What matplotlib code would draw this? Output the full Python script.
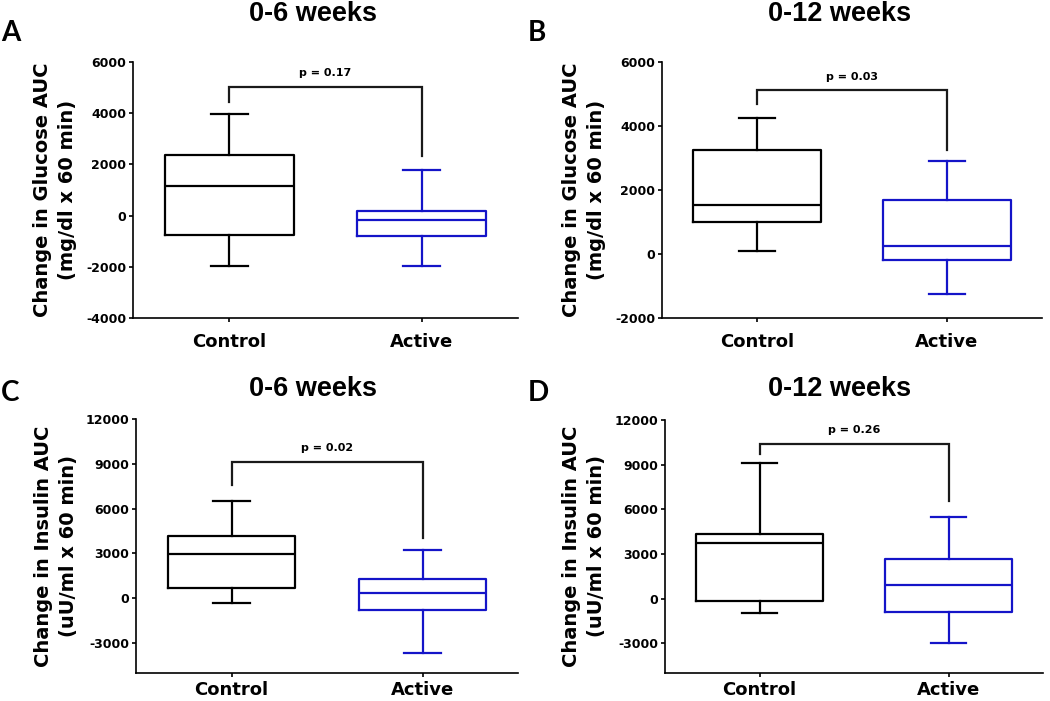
import matplotlib
matplotlib.use("Agg")
import matplotlib.pyplot as plt

# ---------------- data ----------------
groups = ["Control", "Active"]
titles = ["0-6 weeks", "0-12 weeks", "0-6 weeks", "0-12 weeks"]
panel_letters = ["A", "B", "C", "D"]
ylabels = ["Change in Glucose AUC\n(mg/dl x 60 min)",
           "Change in Glucose AUC\n(mg/dl x 60 min)",
           "Change in Insulin AUC\n(uU/ml x 60 min)",
           "Change in Insulin AUC\n(uU/ml x 60 min)"]

# box stats: [whislo, q1, median, q3, whishi]
A_control = [-1950, -740, 1140, 2350, 3970]
A_active = [-1960, -790, -180, 180, 1790]
B_control = [90, 1000, 1530, 3250, 4260]
B_active = [-1240, -200, 250, 1700, 2920]
C_control = [-310, 710, 2980, 4190, 6500]
C_active = [-3630, -800, 360, 1290, 3230]
D_control = [-960, -160, 3740, 4370, 9090]
D_active = [-3010, -870, 910, 2670, 5460]

# significance bracket: [bar level, left leg end, right leg end]
A_bracket = [5030, 4430, 2330]
B_bracket = [5110, 4700, 3250]
C_bracket = [9150, 7600, 4030]
D_bracket = [10420, 9710, 6550]
p_labels = ["p = 0.17", "p = 0.03", "p = 0.02", "p = 0.26"]

A_yticks = [-4000, -2000, 0, 2000, 4000, 6000]
B_yticks = [-2000, 0, 2000, 4000, 6000]
C_yticks = [-3000, 0, 3000, 6000, 9000, 12000]
D_yticks = [-3000, 0, 3000, 6000, 9000, 12000]
ylims = [(-4000, 6000), (-2000, 6000), (-5000, 12000), (-5000, 12000)]

# ---------------- style ----------------
W, H = 1050, 701
fig = plt.figure(figsize=(W / 100, H / 100), dpi=100)
plt.rcParams['font.family'] = ['DejaVu Sans']

BLACK = "#000000"
BLUE = "#1414C8"

# axes boxes in pixels: left, right, top, bottom
ax_px = [(133, 518, 62, 318), (662, 1042, 62, 318),
         (136, 518, 419, 673), (665, 1043, 420, 673)]
title_px = [(313, 14), (840, 14), (313, 389), (840, 389)]
letter_px = [(1, 33), (528, 33), (1, 393), (528, 393)]
ylab_px = [(55, 190), (584, 190), (56, 546), (584, 546)]
xlab_pad = [8, 8, 3, 3]

stats_all = [(A_control, A_active), (B_control, B_active),
             (C_control, C_active), (D_control, D_active)]
brackets = [A_bracket, B_bracket, C_bracket, D_bracket]
yticks_all = [A_yticks, B_yticks, C_yticks, D_yticks]

lw = 1.6
for i in range(4):
    l, r, t, b = ax_px[i]
    ax = fig.add_axes([l / W, 1 - b / H, (r - l) / W, (b - t) / H])
    for j, (vals, col) in enumerate(zip(stats_all[i], [BLACK, BLUE])):
        st = dict(whislo=vals[0], q1=vals[1], med=vals[2], q3=vals[3],
                  whishi=vals[4], fliers=[])
        ax.bxp([st], positions=[j + 1], widths=0.67, capwidths=0.19,
               showfliers=False, patch_artist=False,
               boxprops=dict(color=col, linewidth=lw),
               medianprops=dict(color=col, linewidth=lw),
               whiskerprops=dict(color=col, linewidth=lw),
               capprops=dict(color=col, linewidth=lw))
    br = brackets[i]
    ax.plot([1, 1, 2, 2], [br[1], br[0], br[0], br[2]], color="#1a1a1a",
            linewidth=lw, solid_joinstyle="miter", clip_on=False)
    ax.annotate(p_labels[i], xy=(1.5, br[0]), xytext=(0, 10),
                textcoords="offset points", ha="center", va="center",
                fontsize=8, fontweight="bold")
    ax.set_xlim(0.5, 2.5)
    ax.set_ylim(*ylims[i])
    ax.set_yticks(yticks_all[i])
    ax.set_yticklabels([str(v) for v in yticks_all[i]], fontsize=9,
                       fontweight="bold")
    ax.set_xticks([1, 2])
    ax.set_xticklabels(groups, fontsize=13, fontweight="bold")
    for s in ["top", "right"]:
        ax.spines[s].set_visible(False)
    for s in ["left", "bottom"]:
        ax.spines[s].set_linewidth(1.2)
    ax.tick_params(axis="y", direction="out", length=3, width=1.2, pad=2)
    ax.tick_params(axis="x", direction="out", length=3, width=1.2,
                   pad=xlab_pad[i])

    tx, ty = title_px[i]
    fig.text(tx / W, 1 - ty / H, titles[i], ha="center", va="center",
             fontsize=19.5, fontweight="bold", family="Liberation Sans")
    lx, ly = letter_px[i]
    fig.text(lx / W, 1 - ly / H, panel_letters[i], ha="left", va="center",
             fontsize=20, fontweight="bold", family="Lato")
    yx, yy = ylab_px[i]
    fig.text(yx / W, 1 - yy / H, ylabels[i], ha="center", va="center",
             rotation=90, fontsize=14, fontweight="bold", linespacing=1.45,
             multialignment="center")

fig.savefig("out.png", dpi=100)
